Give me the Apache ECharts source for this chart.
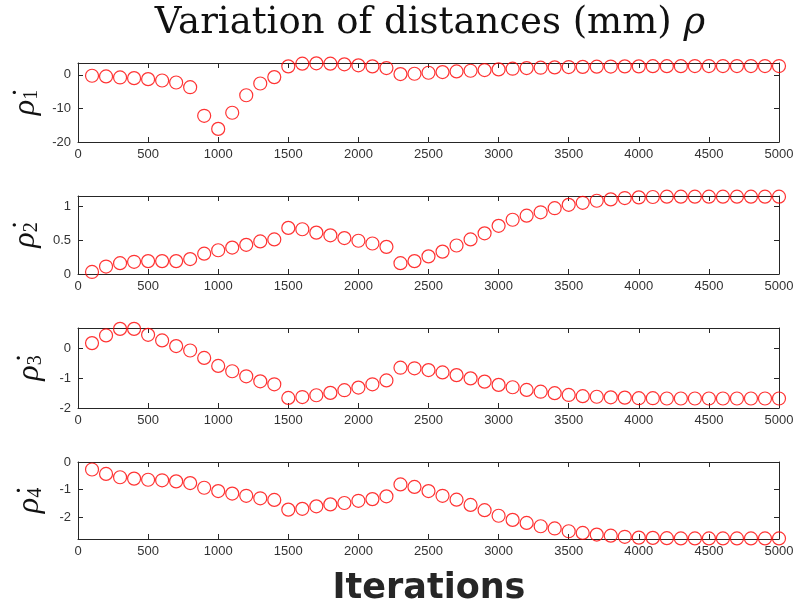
<!DOCTYPE html>
<html>
<head>
<meta charset="utf-8">
<script src="https://cdn.jsdelivr.net/npm/echarts@6/dist/echarts.min.js"></script>
<style>html,body{margin:0;padding:0;background:#fff}#c{width:804px;height:610px}</style>
</head>
<body>
<div id="c"></div>
<script>
var iterations = [100,200,300,400,500,600,700,800,900,1000,1100,1200,1300,1400,1500,1600,1700,1800,1900,2000,2100,2200,2300,2400,2500,2600,2700,2800,2900,3000,3100,3200,3300,3400,3500,3600,3700,3800,3900,4000,4100,4200,4300,4400,4500,4600,4700,4800,4900,5000];
var rho1 = [-0.3,-0.5,-0.8,-1.0,-1.3,-1.7,-2.3,-3.7,-12.2,-16.1,-11.3,-6.1,-2.6,-0.7,2.5,3.3,3.4,3.3,3.1,2.8,2.5,2.0,0.2,0.3,0.6,0.8,1.0,1.2,1.4,1.6,1.8,2.0,2.1,2.2,2.3,2.35,2.4,2.45,2.5,2.5,2.55,2.55,2.55,2.6,2.6,2.6,2.6,2.6,2.6,2.6];
var rho2 = [0.03,0.11,0.16,0.18,0.19,0.19,0.19,0.22,0.30,0.35,0.39,0.43,0.48,0.51,0.68,0.66,0.61,0.57,0.53,0.49,0.45,0.40,0.16,0.19,0.26,0.33,0.42,0.51,0.60,0.71,0.80,0.86,0.91,0.97,1.02,1.05,1.08,1.10,1.12,1.13,1.135,1.14,1.14,1.14,1.14,1.14,1.14,1.14,1.14,1.14];
var rho3 = [0.19,0.45,0.67,0.67,0.47,0.28,0.09,-0.06,-0.31,-0.58,-0.76,-0.93,-1.10,-1.20,-1.66,-1.63,-1.57,-1.49,-1.40,-1.31,-1.20,-1.07,-0.64,-0.66,-0.72,-0.80,-0.89,-1.00,-1.11,-1.22,-1.30,-1.39,-1.45,-1.50,-1.56,-1.60,-1.62,-1.64,-1.65,-1.67,-1.67,-1.68,-1.68,-1.68,-1.68,-1.68,-1.68,-1.68,-1.68,-1.68];
var rho4 = [-0.27,-0.43,-0.55,-0.60,-0.64,-0.66,-0.70,-0.76,-0.93,-1.05,-1.14,-1.22,-1.31,-1.37,-1.72,-1.69,-1.60,-1.53,-1.48,-1.40,-1.34,-1.24,-0.81,-0.90,-1.05,-1.22,-1.36,-1.55,-1.74,-1.94,-2.09,-2.20,-2.32,-2.40,-2.50,-2.56,-2.62,-2.66,-2.70,-2.73,-2.74,-2.75,-2.76,-2.76,-2.76,-2.76,-2.76,-2.76,-2.76,-2.76];
var xTicks = [0,500,1000,1500,2000,2500,3000,3500,4000,4500,5000];
var yTicks = [[-20,-10,0],[0,0.5,1],[-2,-1,0],[-2,-1,0]];
var yRanges = [[-20,3.5],[0,1.15],[-2,0.7],[-2.78,0]];
var subs = ['1','2','3','4'];
var series = [rho1, rho2, rho3, rho4];

var AX = '#262626';
var grids = [
  {left:78,right:25,top:63,height:79},
  {left:78,right:25,top:196,height:78},
  {left:78,right:25,top:328,height:80},
  {left:78,right:25,top:462,height:77}
];
function plain(v){ return String(v); }
var xAxes = [], yAxes = [], ser = [];
for (var i=0;i<4;i++){
  var base = {type:'value', gridIndex:i, min:0, max:5000,
    axisLine:{show:true,onZero:false,lineStyle:{color:AX,width:1}},
    axisTick:{show:true,inside:true,length:5,lineStyle:{color:AX},customValues:xTicks},
    splitLine:{show:false}};
  xAxes.push(Object.assign({}, base, {position:'bottom',
    axisLabel:{show:true,color:'#333',fontFamily:'Liberation Sans',fontSize:13,margin:6,customValues:xTicks,formatter:plain}}));
  xAxes.push(Object.assign({}, base, {position:'top', axisLabel:{show:false}}));
  var yb = {type:'value', gridIndex:i, min:yRanges[i][0], max:yRanges[i][1],
    axisLine:{show:true,onZero:false,lineStyle:{color:AX,width:1}},
    axisTick:{show:true,inside:true,length:5,lineStyle:{color:AX},customValues:yTicks[i]},
    splitLine:{show:false}};
  yAxes.push(Object.assign({}, yb, {position:'left',
    name:'{r|ρ̇}{s|'+subs[i]+'}', nameLocation:'middle', nameRotate:90, nameGap:32,
    nameTextStyle:{rich:{
      r:{fontFamily:'Liberation Serif',fontStyle:'italic',fontSize:32,color:'#111',lineHeight:32},
      s:{fontFamily:'Liberation Serif',fontSize:20,color:'#111',verticalAlign:'bottom',lineHeight:20,padding:[8,0,0,0]}
    }},
    axisLabel:{show:true,color:'#333',fontFamily:'Liberation Sans',fontSize:13,margin:7,customValues:yTicks[i],formatter:plain}}));
  yAxes.push(Object.assign({}, yb, {position:'right', axisLabel:{show:false}}));
  ser.push({type:'scatter', xAxisIndex:2*i, yAxisIndex:2*i, symbol:'circle', symbolSize:13,
    clip:false, silent:true,
    itemStyle:{color:'rgba(0,0,0,0)', borderColor:'#ff0000', borderWidth:1.2},
    data: iterations.map(function(x,k){return [x, series[i][k]];})});
}
var chart = echarts.init(document.getElementById('c'), null, {renderer:'canvas'});
chart.setOption({
  animation:false,
  backgroundColor:'#fff',
  grid:grids, xAxis:xAxes, yAxis:yAxes, series:ser,
  graphic:[
    {type:'text', x:430, y:23, style:{text:'{a|Variation of distances (mm) }{b|ρ}', align:'center', verticalAlign:'middle',
      rich:{a:{fontFamily:'DejaVu Serif',fontSize:37,fill:'#111'},b:{fontFamily:'DejaVu Serif',fontStyle:'italic',fontSize:37,fill:'#111'}}}},
    {type:'text', x:429, y:589, style:{text:'Iterations', align:'center', verticalAlign:'middle',
      fontFamily:'DejaVu Sans', fontWeight:'bold', fontSize:35, fill:'#262626'}}
  ]
});
</script>
</body>
</html>
